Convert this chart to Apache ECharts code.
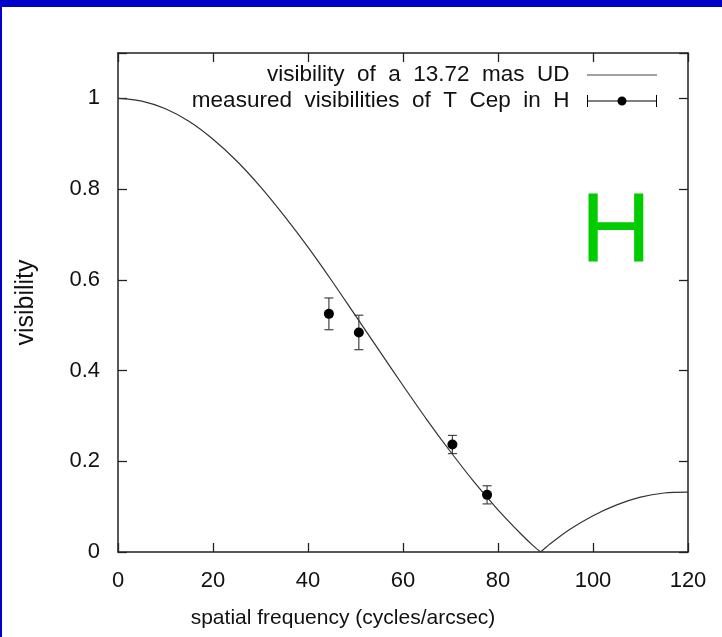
<!DOCTYPE html>
<html><head><meta charset="utf-8">
<script src="https://cdn.jsdelivr.net/npm/echarts@6/dist/echarts.min.js"></script>
<style>html,body{margin:0;padding:0;background:#fff}#c{width:722px;height:637px}</style>
</head><body><div id="c"></div>
<script>
const curveName = 'visibility of a 13.72 mas UD';
const dataName = 'measured visibilities of T Cep in H';
const xAxisName = 'spatial frequency (cycles/arcsec)';
const yAxisName = 'visibility';
const bandLabel = 'H';
const curveFreq = [0,5,10,15,20,25,30,35,40,45,50,55,60,65,70,75,80,85,87.5,89,91,95,100,105,110,115,120];
const curveVis = [1,0.994,0.977,0.949,0.910,0.862,0.805,0.741,0.672,0.598,0.521,0.444,0.367,0.292,0.221,0.154,0.093,0.038,0.013,0.0,0.018,0.049,0.080,0.104,0.121,0.130,0.132];
const measFreq = [44.4, 50.7, 70.4, 77.7];
const measVis = [0.525, 0.484, 0.237, 0.126];
const measErr = [0.035, 0.038, 0.020, 0.020];

const FONT = "'Liberation Sans', Arial, Helvetica, sans-serif";
const AX = '#222';
const chart = echarts.init(document.getElementById('c'), null, {renderer: 'canvas'});

function axisBase(pos, show) {
  return {
    type: 'value', position: pos,
    axisLine: {show: true, onZero: false, lineStyle: {color: AX, width: 1.5}},
    axisTick: {show: true, inside: true, length: 9, lineStyle: {color: AX, width: 1.3}},
    splitLine: {show: false},
    axisLabel: {show: show, fontSize: 22, color: '#111', fontFamily: FONT}
  };
}
const xb = axisBase('bottom', true), xt = axisBase('top', false);
[xb, xt].forEach(a => { a.min = 0; a.max = 120; a.interval = 20; });
xb.axisLabel.margin = 18;
xb.name = xAxisName; xb.nameLocation = 'middle'; xb.nameGap = 56;
xb.nameTextStyle = {fontSize: 21, color: '#111', fontFamily: FONT, padding: [0, 120, 0, 0]};

const yl = axisBase('left', true), yr = axisBase('right', false);
[yl, yr].forEach(a => { a.min = 0; a.max = 1.1; a.interval = 0.2; });
yl.axisLabel.margin = 18;
yl.axisLabel.formatter = v => (v > 1.05 ? '' : String(+v.toFixed(1)));
yl.name = yAxisName; yl.nameLocation = 'middle'; yl.nameGap = 79;
yl.nameTextStyle = {fontSize: 25, color: '#111', fontFamily: FONT};

const lineIcon = 'path://M0,0H70V1H0Z';
const errIcon = 'path://M0,0H1V5.5H69V0H70V12H69V6.5H1V12H0Z M39.5,6A4.5,4.5 0 1,1 30.5,6A4.5,4.5 0 1,1 39.5,6Z';

const zeroIdx = curveVis.indexOf(0);
const curvePts = curveFreq.map((f, i) => [f, curveVis[i]]);
const lineCommon = {
  type: 'line', name: curveName, xAxisIndex: 0, yAxisIndex: 0,
  symbol: 'none', color: '#444', smooth: 0.3,
  lineStyle: {color: '#333', width: 1.2}
};

chart.setOption({
  animation: false,
  backgroundColor: '#fff',
  grid: {left: 118, right: 34, top: 53, bottom: 85, containLabel: false},
  xAxis: [xb, xt],
  yAxis: [yl, yr],
  legend: {
    orient: 'vertical', right: 60, top: 58, align: 'right',
    itemWidth: 70, itemHeight: 12, itemGap: 2, selectedMode: false,
    textStyle: {fontSize: 22.5, lineHeight: 24, color: '#111', fontFamily: FONT},
    formatter: n => n.replace(/ /g, '  ') + '  ',
    data: [{name: curveName, icon: lineIcon}, {name: dataName, icon: errIcon}]
  },
  graphic: [
    {type: 'rect', left: 0, top: 0, shape: {width: 722, height: 7}, style: {fill: '#0000C8'}, z: 100},
    {type: 'rect', left: 0, top: 0, shape: {width: 2, height: 637}, style: {fill: '#0000C8'}, z: 100},
    {type: 'text', x: 616, y: 234, style: {text: bandLabel, fontSize: 98, fill: '#00CC00', fontFamily: FONT, textAlign: 'center', textVerticalAlign: 'middle'}, z: 100}
  ],
  series: [
    Object.assign({}, lineCommon, {data: curvePts.slice(0, zeroIdx + 1)}),
    Object.assign({}, lineCommon, {data: curvePts.slice(zeroIdx)}),
    {
      type: 'custom', name: dataName, xAxisIndex: 0, yAxisIndex: 0,
      color: '#000',
      data: measFreq.map((f, i) => [f, measVis[i], measErr[i]]),
      encode: {x: 0, y: 1},
      renderItem: (params, api) => {
        const x = api.value(0), y = api.value(1), e = api.value(2);
        const p = api.coord([x, y + e]), q = api.coord([x, y - e]);
        const hw = 4.5, st = {stroke: '#444', lineWidth: 1.2};
        return {type: 'group', children: [
          {type: 'line', shape: {x1: p[0], y1: p[1], x2: q[0], y2: q[1]}, style: st},
          {type: 'line', shape: {x1: p[0] - hw, y1: p[1], x2: p[0] + hw, y2: p[1]}, style: st},
          {type: 'line', shape: {x1: q[0] - hw, y1: q[1], x2: q[0] + hw, y2: q[1]}, style: st}
        ]};
      }
    },
    {
      type: 'scatter', name: dataName, xAxisIndex: 0, yAxisIndex: 0,
      data: measFreq.map((f, i) => [f, measVis[i]]),
      symbol: 'circle', symbolSize: 10, z: 5,
      itemStyle: {color: '#000', opacity: 1}
    }
  ]
});
</script></body></html>
